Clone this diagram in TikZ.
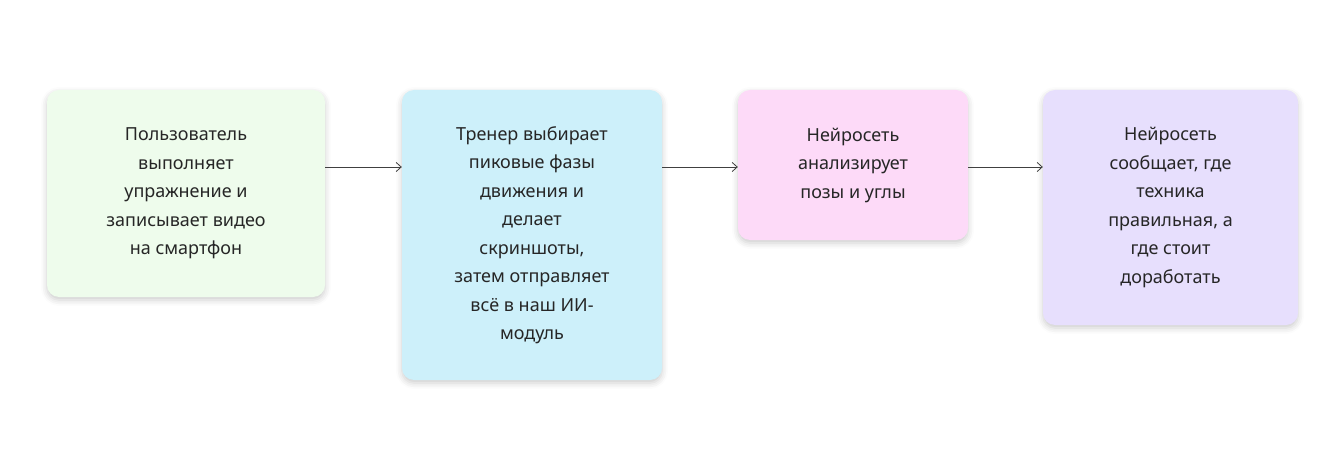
\documentclass[tikz,border=0pt]{standalone}
\usepackage{fontspec}
\setmainfont{Noto Sans}
\usetikzlibrary{shadows.blur,arrows.meta}
\definecolor{cA}{HTML}{EEFCEC}
\definecolor{cB}{HTML}{CDF0FA}
\definecolor{cC}{HTML}{FDDAF8}
\definecolor{cD}{HTML}{E7DFFD}
\tikzset{
 box/.style={rounded corners=12pt, align=center, inner sep=0pt,
   font=\fontsize{18pt}{28.5pt}\selectfont, text=black!85,
   blur shadow={shadow xshift=0pt, shadow yshift=-3pt, shadow blur radius=6pt, shadow opacity=20}},
 conn/.style={draw=black!75, line width=0.8pt, -{Straight Barb[length=5pt,width=9pt]}}
}
\begin{document}
\begin{tikzpicture}[x=1pt,y=1pt]
\useasboundingbox (0,0) rectangle (1343,472);
\node[box, fill=cA, minimum width=278pt, minimum height=207pt] (b1) at (186,278.5)
 {Пользователь\\выполняет\\упражнение и\\записывает видео\\на смартфон};
\node[box, fill=cB, minimum width=260pt, minimum height=290pt] (b2) at (532,237)
 {Тренер выбирает\\пиковые фазы\\движения и\\делает\\скриншоты,\\затем отправляет\\всё в наш ИИ-\\модуль};
\node[box, fill=cC, minimum width=230pt, minimum height=150pt] (b3) at (853,307)
 {Нейросеть\\анализирует\\позы и углы};
\node[box, fill=cD, minimum width=255pt, minimum height=235pt] (b4) at (1170.5,264.5)
 {Нейросеть\\сообщает, где\\техника\\правильная, а\\где стоит\\доработать};
\draw[conn] (b1.east |- 0,305) -- (b2.west |- 0,305);
\draw[conn] (b2.east |- 0,305) -- (b3.west |- 0,305);
\draw[conn] (b3.east |- 0,305) -- (b4.west |- 0,305);
\end{tikzpicture}
\end{document}
